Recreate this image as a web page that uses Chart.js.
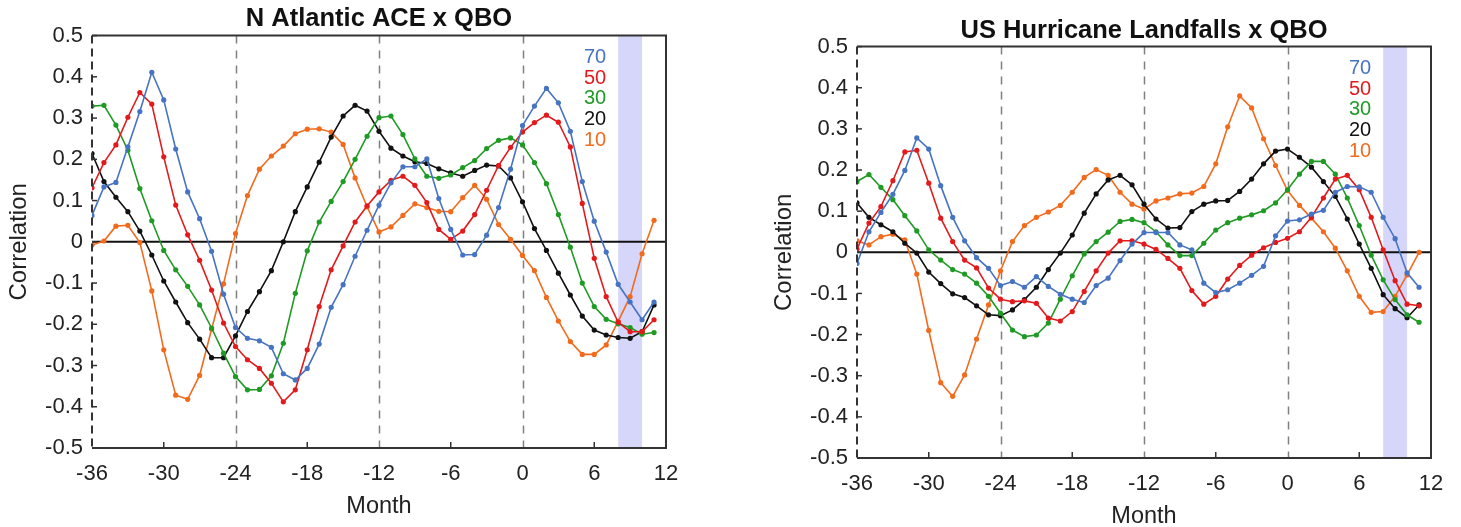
<!DOCTYPE html>
<html>
<head>
<meta charset="utf-8">
<script src="https://cdn.jsdelivr.net/npm/chart.js@4/dist/chart.umd.min.js"></script>
<style>
  html, body { margin: 0; padding: 0; background: #fff; overflow: hidden; width: 1461px; height: 527px; }
  .painel { position: absolute; width: 700px; height: 527px; }
  #painel-ace { left: 0; top: 0; }
  #painel-us { left: 765px; top: 10px; }
</style>
</head>
<body>
<div class="painel" id="painel-ace"><canvas id="graficoAce" width="700" height="527"></canvas></div>
<div class="painel" id="painel-us"><canvas id="graficoUs" width="700" height="527"></canvas></div>
<script>
// meses de defasagem (-36 .. 11)
const meses = [];
for (let m = -36; m <= 11; m++) meses.push(m);

const niveis = ['70', '50', '30', '20', '10'];
const cores = ['#4673c2', '#e31a1c', '#1f9a24', '#111111', '#f26b1d'];
const ticksX = [-36, -30, -24, -18, -12, -6, 0, 6, 12];
const ticksY = [-0.5, -0.4, -0.3, -0.2, -0.1, 0, 0.1, 0.2, 0.3, 0.4, 0.5];
const linhasTracejadas = [-24, -12, 0];
const faixa = [8, 10];

// N Atlantic ACE x QBO
const ace70 = [0.064, 0.133, 0.144, 0.23, 0.316, 0.411, 0.344, 0.225, 0.121, 0.056, -0.023,
  -0.127, -0.208, -0.234, -0.24, -0.256, -0.32, -0.335, -0.307, -0.248, -0.159, -0.104,
  -0.035, 0.028, 0.089, 0.143, 0.182, 0.182, 0.201, 0.105, 0.03, -0.032, -0.031, 0.016, 0.083,
  0.176, 0.282, 0.329, 0.372, 0.337, 0.268, 0.146, 0.05, -0.025, -0.103, -0.146, -0.189, -0.146];
const ace50 = [0.131, 0.192, 0.235, 0.302, 0.362, 0.334, 0.206, 0.089, 0.017, -0.045,
  -0.117, -0.197, -0.254, -0.286, -0.307, -0.343, -0.388, -0.359, -0.262, -0.157, -0.068, -0.01,
  0.048, 0.087, 0.121, 0.149, 0.159, 0.137, 0.095, 0.03, 0.006, 0.026, 0.066, 0.125, 0.185,
  0.229, 0.266, 0.289, 0.307, 0.29, 0.23, 0.093, -0.04, -0.133, -0.195, -0.218, -0.218, -0.189];
const ace30 = [0.329, 0.331, 0.283, 0.222, 0.129, 0.051, -0.021,
  -0.068, -0.108, -0.153, -0.209, -0.27, -0.327, -0.359, -0.358, -0.325, -0.246, -0.125,
  -0.022, 0.048, 0.098, 0.146,
  0.2, 0.256, 0.301, 0.305, 0.26, 0.201, 0.159, 0.154, 0.162, 0.18, 0.197, 0.226, 0.246, 0.252,
  0.235, 0.192, 0.141, 0.066, -0.013,
  -0.1, -0.157, -0.188, -0.199, -0.208, -0.224, -0.22];
const ace20 = [0.214, 0.146, 0.108, 0.073, 0.026, -0.032,
  -0.095, -0.146, -0.196, -0.236, -0.281, -0.281, -0.228, -0.169, -0.121, -0.07,
  0.0, 0.073, 0.133, 0.193, 0.254, 0.305, 0.331,
  0.317, 0.268, 0.227, 0.208, 0.194, 0.19, 0.177, 0.167, 0.159, 0.173, 0.186, 0.184, 0.155,
  0.097, 0.032, -0.021,
  -0.076, -0.129, -0.18, -0.214, -0.226, -0.232, -0.234, -0.218, -0.153];
const ace10 = [-0.008, 0.002, 0.038, 0.04, -0.002,
  -0.119, -0.262, -0.372, -0.382, -0.324, -0.212, -0.102,
  0.02, 0.112, 0.176, 0.208, 0.232, 0.262, 0.273, 0.274, 0.266, 0.236, 0.155,
  0.085, 0.024, 0.036, 0.064, 0.092, 0.083, 0.074, 0.073, 0.107, 0.137, 0.103, 0.042, 0.006, -0.033,
  -0.07, -0.135, -0.192, -0.242, -0.273, -0.273, -0.25, -0.193, -0.133, -0.029, 0.052];

// US Hurricane Landfalls x QBO
const us70 = [-0.027, 0.05, 0.097, 0.141, 0.199, 0.278, 0.251, 0.162, 0.085, 0.028, -0.013, -0.039,
  -0.081, -0.071, -0.085, -0.059, -0.083, -0.102, -0.114, -0.122, -0.081, -0.063, -0.02,
  0.02, 0.048, 0.048, 0.048, 0.018, 0.006,
  -0.075, -0.098, -0.091, -0.075, -0.056, -0.034,
  0.04, 0.076, 0.079, 0.093, 0.102, 0.146, 0.16, 0.159, 0.146, 0.085, 0.033, -0.05, -0.085];
const us50 = [0.008, 0.071, 0.111, 0.174, 0.244, 0.248, 0.168, 0.083, 0.026, -0.019,
  -0.038, -0.087, -0.114, -0.12, -0.118, -0.124, -0.16, -0.167, -0.144, -0.095, -0.045, -0.002,
  0.028, 0.028, 0.02, 0.007, -0.015, -0.039,
  -0.093, -0.126, -0.107, -0.065, -0.032, -0.007,
  0.011, 0.024, 0.034, 0.05, 0.085, 0.132, 0.178, 0.187, 0.152, 0.085, 0.006, -0.069, -0.126, -0.13];
const us30 = [0.172, 0.189, 0.158, 0.128, 0.089, 0.052, 0.006, -0.019,
  -0.042, -0.053, -0.075, -0.107, -0.148, -0.189, -0.205, -0.201, -0.172, -0.114, -0.057, -0.004,
  0.026, 0.049, 0.075,
  0.08, 0.072, 0.05, 0.018, -0.008, -0.008, 0.022, 0.054, 0.072, 0.083, 0.091, 0.101, 0.12,
  0.152, 0.19, 0.221, 0.221, 0.19, 0.132, 0.065, -0.007,
  -0.067, -0.115, -0.152, -0.17];
const us20 = [0.12, 0.085, 0.067, 0.05, 0.022, -0.002,
  -0.048, -0.076, -0.101, -0.11, -0.13, -0.152, -0.154, -0.14, -0.115, -0.085, -0.042, -0.002,
  0.042, 0.095, 0.142, 0.176, 0.187,
  0.164, 0.117, 0.081, 0.059, 0.06, 0.099, 0.117, 0.125, 0.126, 0.148, 0.178, 0.215, 0.246,
  0.251, 0.231, 0.207, 0.172, 0.136, 0.081, 0.02, -0.039,
  -0.103, -0.137, -0.159, -0.128];
const us10 = [0.028, 0.018, 0.038, 0.044, 0.03,
  -0.053, -0.19, -0.317, -0.35, -0.298, -0.211, -0.128, -0.045,
  0.026, 0.065, 0.085, 0.098, 0.114, 0.146, 0.182, 0.201, 0.187, 0.146,
  0.117, 0.105, 0.125, 0.132, 0.142, 0.144, 0.16, 0.215, 0.305, 0.38, 0.351, 0.276, 0.211,
  0.15, 0.114, 0.083, 0.05, 0.01,
  -0.045, -0.107, -0.146, -0.144, -0.107, -0.055, 0.0];

const fonte = "'Liberation Sans', Arial, Helvetica, sans-serif";

// linhas tracejadas, faixa, linha do zero, moldura e rótulos
const decoracao = {
  id: 'decoracao',
  beforeDatasetsDraw(chart) {
    const { ctx, chartArea: a, scales: { x, y } } = chart;
    ctx.save();
    // faixa azul
    const x0 = x.getPixelForValue(faixa[0]);
    const x1 = x.getPixelForValue(faixa[1]);
    ctx.fillStyle = '#d6d6fb';
    ctx.fillRect(x0, a.top, x1 - x0, a.bottom - a.top);
    // tracejadas
    ctx.strokeStyle = '#808080';
    ctx.lineWidth = 1.5;
    ctx.setLineDash([8, 7]);
    linhasTracejadas.forEach(v => {
      const px = Math.round(x.getPixelForValue(v)) + 0.5;
      ctx.beginPath();
      ctx.moveTo(px, a.top);
      ctx.lineTo(px, a.bottom);
      ctx.stroke();
    });
    ctx.setLineDash([]);
    // linha do zero
    const y0 = y.getPixelForValue(0);
    ctx.strokeStyle = '#111';
    ctx.lineWidth = 2;
    ctx.beginPath();
    ctx.moveTo(a.left, y0);
    ctx.lineTo(a.right, y0);
    ctx.stroke();
    ctx.restore();
  },
  afterDraw(chart) {
    const { ctx, chartArea: a, scales: { x, y } } = chart;
    ctx.save();
    ctx.strokeStyle = '#333';
    ctx.lineWidth = 2;
    ctx.beginPath();
    ctx.moveTo(a.left, a.top);
    ctx.lineTo(a.right, a.top);
    ctx.lineTo(a.right, a.bottom);
    ctx.lineTo(a.left, a.bottom);
    ctx.stroke();
    // eixo esquerdo tracejado
    ctx.setLineDash([8, 5]);
    ctx.beginPath();
    ctx.moveTo(a.left, a.top);
    ctx.lineTo(a.left, a.bottom);
    ctx.stroke();
    ctx.setLineDash([]);
    // marcas internas
    ctx.lineWidth = 1.5;
    ticksX.forEach(v => {
      if (linhasTracejadas.includes(v) || v === ticksX[0] || v === ticksX[ticksX.length - 1]) return;
      const px = x.getPixelForValue(v);
      ctx.beginPath();
      ctx.moveTo(px, a.bottom);
      ctx.lineTo(px, a.bottom - 6);
      ctx.stroke();
    });
    ticksY.forEach(v => {
      const py = y.getPixelForValue(v);
      ctx.beginPath();
      ctx.moveTo(a.left, py);
      ctx.lineTo(a.left + 5, py);
      ctx.stroke();
    });
    // rótulos das séries
    ctx.font = '20px ' + fonte;
    ctx.textAlign = 'right';
    ctx.textBaseline = 'middle';
    const xr = x.getPixelForValue(7);
    chart.data.datasets.forEach((d, i) => {
      ctx.fillStyle = d.borderColor;
      ctx.fillText(d.label, xr, a.top + 22 + i * 20.6);
    });
    ctx.restore();
  }
};

function criarGrafico(id, titulo, series, paddingTitulo) {
  const ctx = document.getElementById(id).getContext('2d');
  return new Chart(ctx, {
    type: 'line',
    data: {
      datasets: series.map((valores, i) => ({
        label: niveis[i],
        data: meses.map((m, j) => ({ x: m, y: valores[j] })),
        borderColor: cores[i],
        backgroundColor: cores[i],
        borderWidth: 1.6,
        pointRadius: 2.6,
        pointBorderWidth: 0,
        pointHoverRadius: 0,
        tension: 0
      }))
    },
    options: {
      responsive: false,
      animation: false,
      events: [],
      layout: { padding: { right: 34 } },
      plugins: {
        legend: { display: false },
        tooltip: { enabled: false },
        title: {
          display: true,
          text: titulo,
          fullSize: false,
          color: '#111',
          font: { family: fonte, size: 25.5, weight: 'bold' },
          padding: paddingTitulo
        }
      },
      scales: {
        x: {
          type: 'linear',
          min: -36,
          max: 12,
          afterBuildTicks: s => { s.ticks = ticksX.map(v => ({ value: v })); },
          ticks: { color: '#222', font: { family: fonte, size: 22 }, padding: 13, maxRotation: 0 },
          grid: { display: false, drawTicks: false },
          border: { display: false },
          title: { display: true, text: 'Month', color: '#222', font: { family: fonte, size: 23.5 }, padding: { top: 0, bottom: 6 } },
          afterFit: s => { s.height = 79; }
        },
        y: {
          type: 'linear',
          min: -0.5,
          max: 0.5,
          afterBuildTicks: s => { s.ticks = ticksY.map(v => ({ value: v })); },
          ticks: { color: '#222', font: { family: fonte, size: 22 }, padding: 9, callback: v => String(Number(v.toFixed(1))) },
          grid: { display: false, drawTicks: false },
          border: { display: false },
          title: { display: true, text: 'Correlation', color: '#222', font: { family: fonte, size: 24 }, padding: { top: 5, bottom: 0 } },
          afterFit: s => { s.width = 92; }
        }
      }
    },
    plugins: [decoracao]
  });
}

criarGrafico('graficoAce', 'N Atlantic ACE x QBO', [ace70, ace50, ace30, ace20, ace10], { top: 4, bottom: 1 });
criarGrafico('graficoUs', 'US Hurricane Landfalls x QBO', [us70, us50, us30, us20, us10], { top: 6, bottom: 0 });
</script>
</body>
</html>
